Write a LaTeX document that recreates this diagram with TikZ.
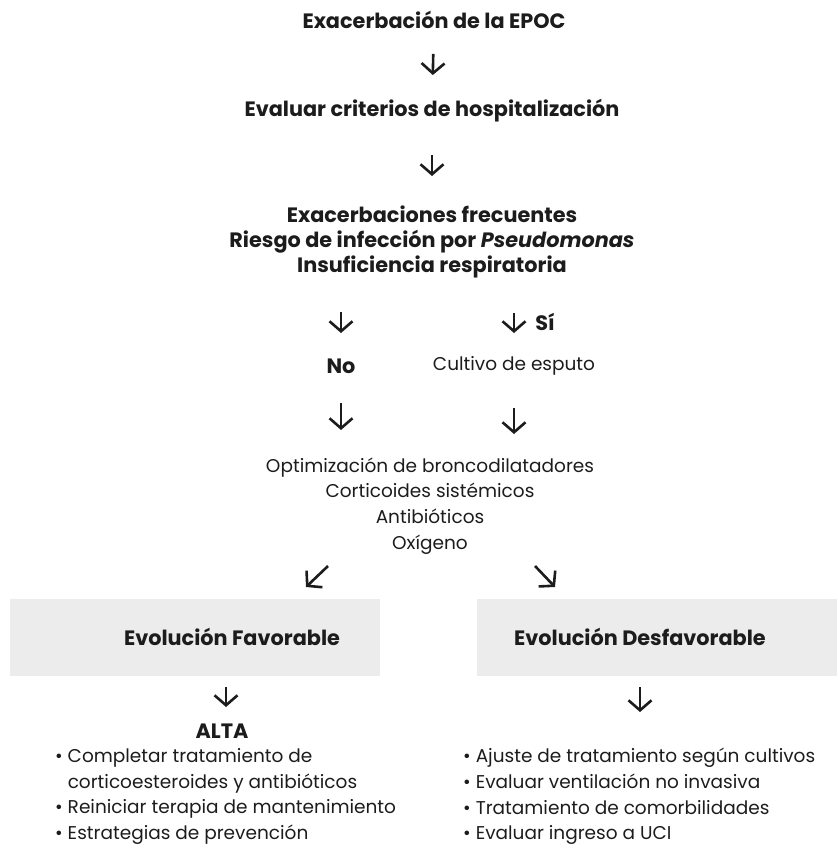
\documentclass[tikz,border=0pt]{standalone}
\usepackage{fontspec}
\setmainfont{Poppins}
\usetikzlibrary{positioning, calc, arrows.meta}
\definecolor{Ink}{HTML}{1C1C1C}
\definecolor{Panel}{HTML}{ECECEC}
\tikzset{
    plaintxt/.style={inner sep=0pt, align=center, text=Ink, font=\fontsize{18.5}{25.7}\selectfont},
    boldtxt/.style={plaintxt, font=\fontsize{20.8}{25.2}\selectfont\bfseries},
    listtxt/.style={plaintxt, align=left, anchor=west},
    panel/.style={rectangle, fill=Panel, minimum width=#1, minimum height=77pt, inner sep=0pt},
    arrow/.style={-{Straight Barb[length=10pt, width=23pt]}, line width=2.6pt, color=Ink},
    gap/.style 2 args={shorten <=#1, shorten >=#2},
}

\begin{document}
\begin{tikzpicture}[x=1pt, y=-1pt]
        \useasboundingbox (0,0) rectangle (837,850);

        % tronco principal
        \node[boldtxt] (epoc) at (434,20) {Exacerbación de la EPOC};
        \node[boldtxt] (hosp) at (432,111) {Evaluar criterios de hospitalización};
        \node[boldtxt] (crit) at (432,242) {Exacerbaciones frecuentes\\Riesgo de infección por \textit{Pseudomonas}\\Insuficiencia respiratoria};
        \node[boldtxt] (no) at (341,366) {No};
        \node[plaintxt] (cult) at (514,366) {Cultivo de esputo};
        \node[plaintxt] (trat) at (430,506) {Optimización de broncodilatadores\\Corticoides sistémicos\\Antibióticos\\Oxígeno};

        % evolucion
        \node[panel=370pt] (fav) at (195,637.5) {};
        \node[panel=360pt] (desf) at (657,637.5) {};
        \node[boldtxt] (favtxt) at (232,637) {Evolución Favorable};
        \node[boldtxt] (desftxt) at (640,637) {Evolución Desfavorable};
        \node[boldtxt] (alta) at (222,731) {ALTA};
        \node[listtxt] (favlist) at (55,796.5) {• Completar tratamiento de\\\phantom{• }corticoesteroides y antibióticos\\• Reiniciar terapia de mantenimiento\\• Estrategias de prevención};
        \node[listtxt] (desflist) at (463,796.5) {• Ajuste de tratamiento según cultivos\\• Evaluar ventilación no invasiva\\• Tratamiento de comorbilidades\\• Evaluar ingreso a UCI};

        \draw[arrow, gap={34pt}{36pt}] (epoc.center) -- (hosp.center);
        \draw[arrow, gap={44pt}{66pt}] (hosp.center) -- (crit.center);
        \draw[arrow, gap={70pt}{33pt}] (crit.center -| no) -- (no.center);
        \draw[arrow, gap={71pt}{33pt}] (crit.center -| cult) -- node[boldtxt, pos=0.645, right=20pt] (si) {Sí} (cult.center);
        \draw[arrow, gap={37pt}{76pt}] (no.center) -- (trat.center -| no);
        \draw[arrow, gap={42pt}{72pt}] (cult.center) -- (trat.center -| cult);
        \draw[arrow] ([shift={(-102,60)}]trat.center) -- ([shift={(111,-50.5)}]fav.center);
        \draw[arrow] ([shift={(105,60)}]trat.center) -- ([shift={(-102,-50.5)}]desf.center);
        \draw[arrow] ([shift={(31,49.5)}]fav.center) -- ([shift={(4,-24)}]alta.center);
        \draw[arrow, gap={11pt}{36pt}] (desftxt |- desf.south) -- (desftxt |- desflist.north);
    \end{tikzpicture}
\end{document}
